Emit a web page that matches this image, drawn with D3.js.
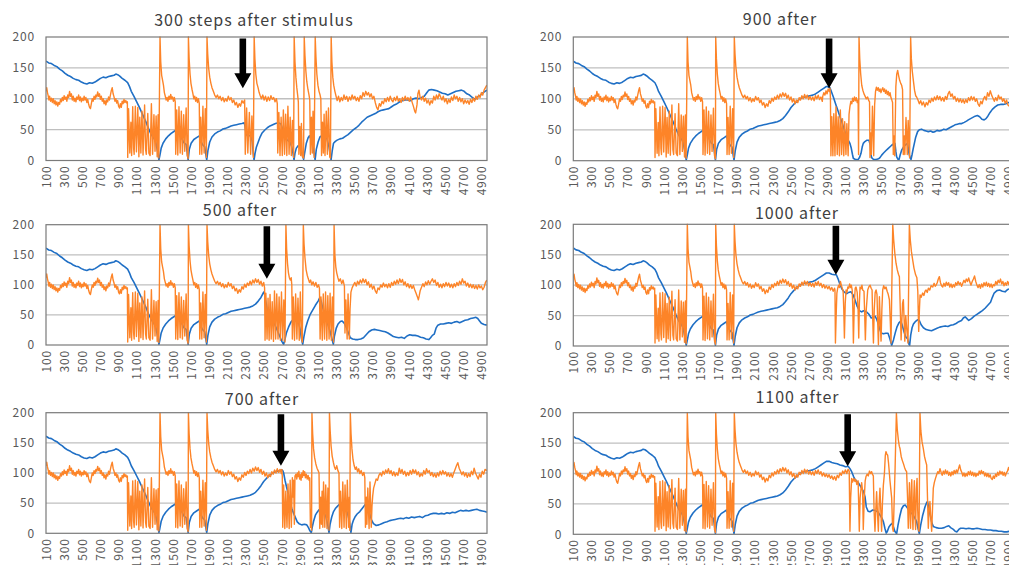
<!DOCTYPE html>
<html>
<head>
<meta charset="utf-8">
<script src="https://cdn.jsdelivr.net/npm/d3@7"></script>
<style>
  body { margin: 0; background: #fff; }
  svg { display: block; font-family: "Noto Sans CJK JP", "Noto Sans", sans-serif; }
</style>
</head>
<body>
<svg id="chart" width="1009" height="565"></svg>
<script>
// ---- axis labels ----
const xTickLabels = [100, 300, 500, 700, 900, 1100, 1300, 1500, 1700, 1900, 2100, 2300, 2500,
  2700, 2900, 3100, 3300, 3500, 3700, 3900, 4100, 4300, 4500, 4700, 4900];
const yTickLabels = [0, 50, 100, 150, 200];
const gridValues = [50, 100, 150];

// ---- panel titles, arrow step and arrow tip value (row-major order) ----
const titles = ["300 steps after stimulus", "900 after", "500 after", "1000 after", "700 after", "1100 after"];
const arrowSteps = [2270, 2920, 2535, 2995, 2690, 3125];
const arrowTips = [117, 117, 110, 117, 112, 112];

// ---- shared run before the perturbation (blue) ----
const blueBase = [[100,161],[130,158],[160,157],[190,154],[220,152],[250,148],[280,145],[310,141],[340,138],[370,136],[400,133],[430,131],[460,130],[490,127],[520,125],[550,124],[580,126],[610,125],[640,127],[670,130],[700,133],[730,135],[760,134],[790,136],[820,137],[850,138],[870,140],[890,139],[910,137],[940,133],[970,130],[1000,126],[1020,120],[1040,112],[1070,104],[1100,95],[1130,86],[1160,76],[1200,63],[1230,52],[1260,42],[1290,36],[1310,30],[1330,15],[1345,1],[1355,8],[1370,20],[1390,28],[1420,35],[1450,40],[1480,44],[1510,47],[1540,50],[1565,52],[1585,45],[1600,35],[1620,29],[1645,26],[1658,12],[1667,1],[1680,18],[1700,28],[1730,34],[1760,37],[1790,40],[1805,32],[1825,26],[1850,22],[1862,10],[1872,1],[1885,16],[1905,30],[1930,38],[1960,43],[1990,46],[2020,48],[2050,51],[2080,52],[2110,54],[2140,56],[2170,57],[2200,58],[2230,59],[2260,60],[2290,61],[2320,62],[2350,63],[2380,65],[2410,68],[2440,73],[2470,79],[2500,86],[2530,91],[2560,95],[2590,99],[2620,102],[2650,103],[2680,104],[2710,105],[2740,106],[2770,108],[2800,111],[2830,114],[2860,117],[2890,120],[2920,120],[2950,118],[2980,117],[3010,116],[3040,114],[3070,113],[3100,111]];

// ---- shared run before the perturbation (orange) ----
const orangeBase = [[100,112],[108,118],[116,110],[124,105],[132,98],[140,104],[150,96],[160,101],[170,94],[180,100],[190,92],[200,97],[210,90],[220,95],[230,88],[240,94],[250,91],[260,99],[270,95],[280,102],[290,97],[300,105],[310,99],[320,103],[330,96],[340,106],[350,102],[360,112],[370,104],[380,108],[390,98],[400,104],[410,96],[420,101],[430,95],[440,103],[450,99],[460,106],[470,97],[480,103],[490,95],[500,101],[510,97],[520,104],[530,98],[540,102],[550,94],[560,99],[570,91],[580,86],[590,84],[600,92],[610,100],[620,96],[630,104],[640,99],[650,106],[660,103],[670,111],[680,104],[690,108],[700,99],[710,104],[720,96],[730,100],[740,92],[750,97],[760,90],[770,98],[780,95],[790,103],[800,98],[810,106],[820,113],[830,118],[840,108],[850,103],[860,96],[870,100],[880,93],[890,97],[900,88],[910,85],[920,92],[930,86],[940,96],[950,92],[960,99],[970,94],[980,97],[990,93],
[997,95],[1001,5],[1010,84],[1024,12],[1036,62],[1044,8],[1056,87],[1066,20],[1072,10],[1085,88],[1097,14],[1112,86],[1124,6],[1134,70],[1146,12],[1158,80],[1170,9],[1187,90],[1198,18],[1206,10],[1222,76],[1234,12],[1248,8],[1262,92],[1275,10],[1290,74],[1302,15],[1314,72],[1326,6],[1336,74],[1344,4],
[1357,200],[1365,160],[1375,138],[1385,130],[1395,122],[1405,110],[1415,104],[1425,98],[1435,102],[1445,96],[1455,104],[1465,99],[1475,107],[1485,100],[1495,103],[1505,96],[1515,102],[1525,95],
[1530,10],[1541,82],[1553,9],[1566,87],[1579,12],[1592,80],[1604,10],[1618,74],[1630,15],[1645,85],[1657,8],[1667,3],
[1670,200],[1678,165],[1688,140],[1698,125],[1710,115],[1720,108],[1730,100],[1740,104],[1750,96],[1760,102],[1770,94],[1780,100],[1790,92],
[1795,10],[1806,70],[1818,10],[1830,88],[1843,12],[1856,84],[1868,5],
[1875,200],[1883,172],[1893,150],[1905,135],[1918,125],[1930,118],[1945,112],[1960,106],[1975,102],[1990,106],[2005,100],[2020,104],[2035,97],[2050,102],[2065,95],[2080,100],[2095,96],[2110,104],[2125,98],[2140,102],[2155,94],[2170,98],[2185,90],[2200,94],[2215,86],[2230,92],[2245,88],[2260,97],[2275,93],[2290,101],[2305,96],[2320,103],[2335,99],[2350,106],[2365,100],[2380,108],[2395,103],[2410,110],[2425,104],[2440,109],[2455,101],[2470,106],[2485,98],[2500,103],[2515,95],[2530,100],[2545,92],[2560,98],[2575,94],[2590,102],[2605,98],[2620,105],[2635,100],[2650,107],[2665,101],[2680,106],[2695,99],[2710,104],[2725,98],[2740,103],[2755,97],[2770,105],[2785,100],[2800,106],[2815,99],[2830,103],[2845,96],[2860,101],[2875,95],[2890,99],[2905,94],[2920,98],[2935,92],[2950,96],[2965,90],[2980,95],[2995,89],[3010,97],[3025,93],[3040,101],[3055,97],[3070,104],[3085,100],[3100,106]];

// ---- 300 steps after stimulus ----
const blue300 = [[2285,61],[2295,55],[2305,44],[2320,40],[2340,40],[2360,41],[2375,30],[2385,12],[2394,1],[2405,12],[2420,22],[2440,30],[2460,38],[2480,44],[2510,49],[2540,53],[2570,56],[2600,58],[2630,60],[2660,61],[2690,59],[2710,50],[2730,40],[2760,33],[2790,30],[2810,22],[2825,10],[2835,1],[2845,12],[2860,20],[2880,24],[2900,22],[2920,12],[2940,2],[2955,15],[2970,28],[2990,37],[3005,40],[3020,35],[3035,28],[3050,18],[3060,8],[3067,1],[3080,18],[3100,30],[3120,38],[3150,41],[3180,40],[3200,34],[3220,22],[3235,8],[3243,1],[3255,15],[3270,28],[3290,31],[3310,33],[3340,35],[3370,36],[3400,39],[3430,42],[3460,46],[3490,50],[3520,53],[3550,57],[3580,62],[3610,66],[3640,70],[3670,72],[3700,74],[3730,76],[3760,79],[3790,81],[3820,82],[3850,83],[3880,84],[3910,87],[3940,90],[3970,92],[4000,95],[4030,97],[4060,98],[4090,98],[4120,97],[4150,100],[4180,101],[4210,100],[4240,102],[4270,104],[4300,110],[4320,114],[4350,115],[4380,114],[4410,113],[4440,111],[4470,109],[4500,108],[4530,106],[4560,108],[4590,110],[4620,112],[4650,113],[4680,114],[4710,112],[4740,108],[4770,106],[4800,102],[4830,99],[4860,103],[4890,106],[4920,110],[4960,114]];
const orange300 = [[2290,98],[2297,10],[2312,85],[2325,12],[2342,78],[2356,10],[2370,72],[2386,5],[2395,200],[2403,165],[2413,140],[2425,125],[2438,118],[2450,110],[2462,105],[2475,100],[2490,106],[2505,98],[2520,104],[2535,96],[2550,103],[2565,97],[2580,105],[2595,99],[2610,102],[2625,95],[2640,100],[2650,92],[2655,12],[2667,78],[2680,8],[2692,70],[2705,8],[2717,82],[2730,10],[2742,75],[2755,8],[2767,88],[2780,10],[2792,70],[2805,8],[2817,65],[2830,5],[2836,200],[2845,160],[2855,135],[2865,118],[2875,105],[2882,95],[2888,10],[2898,55],[2908,8],[2916,60],[2926,6],[2940,4],[2947,200],[2955,170],[2965,145],[2975,128],[2988,115],[3000,106],[3008,98],[3015,10],[3026,70],[3036,12],[3044,80],[3056,5],[3068,200],[3076,168],[3086,140],[3098,122],[3110,112],[3122,106],[3130,100],[3138,8],[3148,62],[3158,12],[3166,75],[3176,8],[3190,80],[3202,10],[3214,85],[3228,6],[3236,4],[3244,200],[3252,160],[3262,135],[3272,122],[3285,112],[3298,104],[3310,97],[3325,104],[3340,95],[3355,102],[3370,97],[3385,106],[3400,99],[3415,104],[3430,96],[3445,103],[3460,98],[3475,106],[3490,100],[3505,104],[3520,97],[3535,102],[3550,96],[3565,105],[3580,100],[3595,110],[3610,104],[3625,112],[3640,106],[3655,110],[3670,103],[3685,108],[3700,100],[3715,104],[3730,94],[3745,86],[3760,82],[3775,92],[3790,88],[3805,96],[3820,92],[3835,100],[3850,95],[3865,102],[3880,96],[3895,104],[3910,98],[3925,95],[3940,102],[3955,97],[3970,104],[3985,96],[4000,100],[4015,94],[4030,102],[4045,97],[4060,104],[4075,98],[4090,102],[4105,96],[4120,103],[4135,95],[4150,88],[4165,80],[4175,77],[4190,90],[4200,108],[4212,114],[4225,102],[4240,98],[4255,104],[4270,96],[4285,101],[4300,93],[4315,98],[4330,90],[4345,97],[4360,93],[4375,104],[4390,98],[4405,106],[4420,100],[4435,108],[4450,103],[4465,98],[4480,104],[4495,95],[4510,100],[4525,92],[4540,99],[4555,94],[4570,103],[4585,97],[4600,106],[4615,100],[4630,104],[4645,96],[4660,102],[4675,95],[4690,100],[4705,92],[4720,98],[4735,93],[4750,97],[4765,91],[4780,99],[4795,94],[4810,101],[4825,96],[4840,104],[4855,99],[4870,106],[4885,102],[4900,110],[4915,106],[4930,114],[4945,118],[4960,122]];

// ---- 500 after ----
const blue500 = [[2500,88],[2510,85],[2520,75],[2535,62],[2550,50],[2570,46],[2590,44],[2610,38],[2640,28],[2670,17],[2700,6],[2720,1],[2735,10],[2750,20],[2775,30],[2800,38],[2830,43],[2860,45],[2880,40],[2900,28],[2915,12],[2930,1],[2945,15],[2965,30],[2985,40],[3010,50],[3040,58],[3070,66],[3100,73],[3120,79],[3135,72],[3150,62],[3175,50],[3200,38],[3230,24],[3250,12],[3268,1],[3280,15],[3300,28],[3320,35],[3345,39],[3365,40],[3390,36],[3415,28],[3435,20],[3455,12],[3480,10],[3510,9],[3540,9],[3570,10],[3600,12],[3630,17],[3660,22],[3690,25],[3720,26],[3750,25],[3780,24],[3810,23],[3840,22],[3870,20],[3900,17],[3930,14],[3960,13],[3990,12],[4020,13],[4050,11],[4080,15],[4110,17],[4140,16],[4170,16],[4200,15],[4230,13],[4260,12],[4290,10],[4320,9],[4340,12],[4360,16],[4380,18],[4400,28],[4420,33],[4450,35],[4480,35],[4510,36],[4540,37],[4570,36],[4600,38],[4630,39],[4660,37],[4690,39],[4720,41],[4750,42],[4780,44],[4810,45],[4840,46],[4860,44],[4880,40],[4900,36],[4930,34],[4960,33]];
const orange500 = [[2500,104],[2510,95],[2515,8],[2524,86],[2537,10],[2548,78],[2560,8],[2570,84],[2583,10],[2594,72],[2608,6],[2619,90],[2632,10],[2644,85],[2658,10],[2670,80],[2684,8],[2696,88],[2710,8],[2722,75],[2735,5],[2745,200],[2753,160],[2763,135],[2773,120],[2783,112],[2793,108],[2803,112],[2810,100],[2816,10],[2826,80],[2840,8],[2852,85],[2866,10],[2878,78],[2892,8],[2904,88],[2918,10],[2926,5],[2937,200],[2945,168],[2955,145],[2968,125],[2980,116],[2992,110],[3005,104],[3018,108],[3030,100],[3045,105],[3060,98],[3075,104],[3090,96],[3105,100],[3115,94],[3122,10],[3132,80],[3146,8],[3157,85],[3171,10],[3182,88],[3196,8],[3207,82],[3221,10],[3232,86],[3246,8],[3257,80],[3270,5],[3276,200],[3285,150],[3295,130],[3305,120],[3318,112],[3330,106],[3345,110],[3360,102],[3375,108],[3390,98],[3396,20],[3406,75],[3420,10],[3430,85],[3444,10],[3452,60],[3462,88],[3475,95],[3490,100],[3505,104],[3520,98],[3535,106],[3550,101],[3565,108],[3580,103],[3595,110],[3610,104],[3625,109],[3640,100],[3655,105],[3670,96],[3685,101],[3700,93],[3715,98],[3730,90],[3745,86],[3760,95],[3775,92],[3790,100],[3805,96],[3820,103],[3835,97],[3850,101],[3865,95],[3880,102],[3895,96],[3910,104],[3925,99],[3940,106],[3955,101],[3970,108],[3985,102],[4000,110],[4015,104],[4030,109],[4045,100],[4060,105],[4075,97],[4090,102],[4105,95],[4120,100],[4135,94],[4150,99],[4165,92],[4180,86],[4195,80],[4205,75],[4215,82],[4225,90],[4240,96],[4255,102],[4270,97],[4285,105],[4300,100],[4315,107],[4330,101],[4345,106],[4360,110],[4375,104],[4390,108],[4405,99],[4420,104],[4435,96],[4450,101],[4465,95],[4480,102],[4495,97],[4510,104],[4525,98],[4540,103],[4555,96],[4570,101],[4585,95],[4600,102],[4615,97],[4630,104],[4645,99],[4660,106],[4675,101],[4690,110],[4705,103],[4720,106],[4735,98],[4750,103],[4765,96],[4780,101],[4795,95],[4810,100],[4825,94],[4840,99],[4855,93],[4870,100],[4885,95],[4900,98],[4915,92],[4930,96],[4945,104],[4960,108]];

// ---- 700 after ----
const blue700 = [[2700,105],[2710,104],[2720,100],[2735,88],[2750,78],[2770,66],[2790,52],[2810,41],[2830,33],[2850,26],[2870,19],[2890,16],[2920,14],[2950,15],[2975,14],[2995,9],[3010,4],[3025,1],[3035,10],[3050,20],[3070,30],[3090,35],[3110,39],[3135,38],[3160,36],[3185,28],[3205,15],[3220,1],[3232,15],[3250,27],[3270,36],[3290,41],[3315,45],[3340,49],[3360,50],[3380,48],[3400,42],[3425,33],[3445,20],[3462,1],[3475,15],[3490,22],[3510,28],[3530,32],[3560,36],[3590,42],[3620,48],[3635,50],[3650,44],[3670,32],[3690,22],[3710,16],[3740,13],[3770,14],[3800,16],[3830,18],[3860,19],[3890,21],[3920,22],[3950,23],[3980,24],[4010,25],[4040,24],[4070,26],[4100,25],[4130,27],[4160,26],[4190,27],[4220,28],[4250,26],[4280,29],[4310,30],[4340,32],[4370,33],[4400,33],[4430,32],[4460,33],[4490,32],[4520,34],[4550,33],[4580,35],[4610,34],[4640,36],[4670,38],[4700,37],[4730,38],[4760,37],[4790,38],[4820,39],[4850,40],[4880,38],[4910,37],[4940,36],[4960,35]];
const orange700 = [[2700,106],[2705,95],[2710,10],[2720,80],[2733,8],[2744,70],[2757,10],[2768,82],[2781,8],[2792,88],[2805,10],[2816,92],[2824,60],[2830,88],[2838,15],[2845,95],[2855,98],[2865,90],[2872,100],[2880,94],[2888,103],[2896,90],[2904,97],[2912,88],[2920,100],[2928,93],[2936,104],[2944,96],[2952,102],[2960,92],[2970,98],[2980,90],[2990,96],[3000,88],[3008,92],[3015,10],[3022,40],[3028,5],[3032,200],[3040,165],[3050,140],[3062,125],[3075,115],[3088,108],[3100,104],[3110,100],[3118,8],[3128,60],[3136,15],[3144,70],[3152,10],[3160,85],[3174,10],[3184,80],[3198,8],[3208,75],[3220,5],[3225,200],[3233,170],[3243,145],[3255,128],[3268,118],[3280,110],[3292,106],[3305,112],[3318,104],[3330,100],[3337,10],[3347,70],[3361,8],[3372,85],[3386,10],[3397,80],[3411,8],[3422,88],[3436,10],[3444,60],[3450,5],[3455,200],[3463,165],[3473,140],[3485,122],[3498,112],[3510,106],[3522,110],[3535,102],[3548,107],[3560,99],[3575,104],[3590,96],[3605,101],[3615,92],[3622,10],[3632,60],[3638,15],[3648,75],[3662,8],[3672,85],[3686,10],[3694,45],[3702,62],[3712,75],[3725,82],[3740,90],[3755,88],[3770,96],[3785,100],[3800,95],[3815,103],[3830,98],[3845,105],[3860,100],[3875,107],[3890,99],[3905,104],[3920,96],[3935,102],[3950,95],[3965,100],[3980,96],[3995,108],[4010,100],[4025,106],[4040,98],[4055,103],[4070,95],[4085,101],[4100,96],[4115,104],[4130,98],[4145,106],[4160,100],[4175,105],[4190,97],[4205,102],[4220,94],[4235,99],[4250,95],[4265,104],[4280,98],[4295,107],[4310,101],[4325,104],[4340,96],[4355,101],[4370,94],[4385,99],[4400,93],[4415,100],[4430,95],[4445,103],[4460,97],[4475,104],[4490,98],[4505,102],[4520,95],[4535,100],[4550,94],[4565,99],[4580,93],[4595,100],[4610,106],[4625,112],[4640,117],[4655,108],[4670,103],[4685,97],[4700,102],[4715,95],[4730,100],[4745,93],[4760,99],[4775,94],[4790,103],[4805,97],[4820,108],[4835,100],[4850,95],[4865,90],[4880,98],[4895,93],[4910,103],[4925,98],[4940,106],[4960,104]];

// ---- 900 after ----
const blue900 = [[2900,120],[2930,118],[2950,110],[2967,103],[2985,95],[3003,87],[3020,80],[3040,71],[3060,63],[3077,55],[3095,47],[3114,39],[3132,33],[3150,28],[3165,20],[3178,10],[3187,4],[3210,2],[3242,2],[3258,6],[3272,12],[3285,22],[3297,28],[3315,31],[3334,33],[3360,33],[3375,25],[3382,10],[3389,5],[3410,2],[3440,2],[3465,3],[3481,5],[3500,9],[3518,12],[3545,16],[3573,20],[3595,23],[3610,25],[3630,27],[3646,28],[3656,15],[3665,6],[3680,2],[3691,2],[3705,10],[3720,17],[3740,22],[3757,25],[3775,27],[3786,28],[3795,18],[3801,12],[3812,5],[3823,2],[3835,10],[3848,20],[3860,28],[3875,38],[3896,47],[3915,50],[3940,51],[3965,49],[3990,48],[4014,47],[4040,48],[4065,46],[4088,47],[4110,49],[4135,48],[4161,49],[4185,51],[4210,50],[4235,52],[4260,54],[4285,56],[4308,58],[4335,59],[4360,60],[4382,60],[4410,62],[4435,64],[4455,66],[4480,68],[4505,70],[4530,72],[4555,73],[4580,71],[4605,67],[4630,66],[4650,68],[4670,72],[4695,78],[4720,83],[4750,87],[4780,90],[4810,91],[4840,91],[4870,92],[4900,94],[4930,95],[4960,96]];
const orange900 = [[2850,104],[2862,110],[2874,106],[2886,113],[2898,108],[2910,116],[2922,112],[2930,117],[2935,100],[2940,8],[2950,71],[2962,8],[2972,76],[2985,8],[2996,87],[3010,10],[3020,71],[3034,8],[3044,82],[3058,10],[3068,68],[3082,8],[3092,63],[3106,10],[3116,60],[3130,8],[3140,75],[3150,88],[3160,96],[3170,92],[3180,101],[3190,96],[3200,103],[3210,97],[3220,102],[3230,94],[3240,98],[3245,10],[3250,200],[3258,165],[3268,141],[3280,122],[3292,114],[3305,108],[3318,104],[3330,100],[3345,103],[3358,97],[3366,95],[3371,5],[3380,45],[3386,10],[3398,88],[3412,8],[3422,90],[3432,112],[3442,119],[3452,114],[3462,118],[3472,112],[3482,116],[3492,110],[3502,115],[3512,118],[3522,112],[3532,116],[3542,109],[3552,114],[3562,107],[3572,112],[3582,105],[3592,110],[3602,102],[3612,98],[3620,94],[3628,10],[3636,40],[3644,8],[3656,120],[3666,140],[3676,146],[3686,138],[3698,130],[3710,125],[3720,122],[3730,115],[3738,10],[3748,40],[3755,10],[3768,70],[3782,10],[3792,65],[3808,5],[3819,200],[3827,165],[3837,145],[3849,130],[3862,114],[3875,105],[3885,103],[3900,98],[3915,92],[3930,97],[3945,90],[3960,95],[3977,87],[3992,94],[4007,90],[4022,98],[4037,94],[4052,101],[4067,96],[4082,103],[4097,98],[4112,105],[4127,99],[4142,104],[4157,97],[4172,102],[4187,96],[4202,104],[4217,99],[4232,108],[4247,112],[4262,104],[4277,108],[4292,100],[4307,104],[4322,96],[4337,101],[4352,95],[4367,100],[4382,94],[4397,99],[4412,93],[4427,99],[4442,94],[4457,102],[4472,97],[4487,104],[4502,98],[4517,103],[4532,96],[4547,100],[4562,92],[4577,88],[4592,96],[4607,92],[4622,100],[4637,104],[4652,98],[4667,110],[4682,104],[4697,113],[4712,106],[4727,101],[4742,96],[4757,102],[4772,97],[4787,106],[4802,100],[4817,103],[4832,96],[4847,100],[4862,93],[4877,98],[4892,90],[4907,88],[4922,96],[4937,92],[4960,98]];

// ---- 1000 after ----
const blue1000 = [[3000,117],[3020,110],[3040,101],[3060,94],[3080,90],[3100,87],[3115,86],[3135,88],[3160,89],[3185,84],[3205,76],[3230,65],[3255,58],[3279,56],[3300,58],[3320,57],[3340,55],[3360,52],[3385,46],[3405,47],[3426,49],[3445,44],[3465,35],[3485,25],[3500,21],[3520,20],[3545,21],[3570,21],[3590,12],[3610,1],[3630,10],[3650,22],[3670,32],[3690,38],[3710,41],[3725,35],[3745,24],[3765,15],[3785,12],[3800,3],[3808,1],[3820,18],[3835,30],[3850,36],[3870,40],[3895,43],[3915,42],[3935,35],[3960,30],[3990,27],[4020,26],[4050,25],[4080,27],[4110,29],[4140,31],[4170,32],[4200,33],[4230,32],[4260,34],[4290,35],[4320,37],[4350,40],[4380,42],[4400,46],[4420,48],[4440,45],[4460,42],[4490,45],[4520,49],[4550,52],[4580,55],[4610,58],[4640,62],[4670,67],[4700,72],[4720,80],[4740,87],[4770,91],[4800,92],[4830,90],[4860,89],[4890,93],[4930,95],[4960,97]];
const orange1000 = [[2985,92],[2990,5],[3000,60],[3006,87],[3015,95],[3025,100],[3034,96],[3045,106],[3055,100],[3065,95],[3075,90],[3082,60],[3089,13],[3098,70],[3107,92],[3117,88],[3127,97],[3137,95],[3147,102],[3157,96],[3165,100],[3175,92],[3182,60],[3188,5],[3198,70],[3208,95],[3217,97],[3230,88],[3240,60],[3247,13],[3254,70],[3261,97],[3272,94],[3282,100],[3291,92],[3305,90],[3313,50],[3320,10],[3330,60],[3346,92],[3358,97],[3372,100],[3384,95],[3394,92],[3400,50],[3409,5],[3418,60],[3428,88],[3438,92],[3448,85],[3456,40],[3464,2],[3470,40],[3475,81],[3484,40],[3493,8],[3502,60],[3511,92],[3522,99],[3535,94],[3548,97],[3560,90],[3572,85],[3585,76],[3595,40],[3603,5],[3612,100],[3622,200],[3632,175],[3645,152],[3658,136],[3672,125],[3685,118],[3695,114],[3705,60],[3714,10],[3722,40],[3730,70],[3739,76],[3748,40],[3755,8],[3765,50],[3775,30],[3790,5],[3805,200],[3815,175],[3828,155],[3842,141],[3856,128],[3874,117],[3888,112],[3898,90],[3908,24],[3916,60],[3923,84],[3935,80],[3952,87],[3965,83],[3978,90],[3989,92],[4002,88],[4015,95],[4030,92],[4045,99],[4063,97],[4078,103],[4090,98],[4100,100],[4112,104],[4124,110],[4136,114],[4148,104],[4160,99],[4173,97],[4186,103],[4199,98],[4212,105],[4225,100],[4238,104],[4251,97],[4264,102],[4277,96],[4290,101],[4303,97],[4316,104],[4329,100],[4342,106],[4355,101],[4368,104],[4381,98],[4394,103],[4407,108],[4420,104],[4433,110],[4446,106],[4459,112],[4472,105],[4485,100],[4498,106],[4511,110],[4524,115],[4537,106],[4550,100],[4563,96],[4576,101],[4589,95],[4602,102],[4615,97],[4628,104],[4641,99],[4654,105],[4667,98],[4680,103],[4693,97],[4706,102],[4719,96],[4732,101],[4745,99],[4758,106],[4771,101],[4784,108],[4797,104],[4810,110],[4823,102],[4836,106],[4849,99],[4862,104],[4875,100],[4888,106],[4901,101],[4914,108],[4927,102],[4940,106],[4960,104]];

// ---- 1100 after ----
const blue1100 = [[3105,111],[3130,112],[3150,108],[3169,103],[3190,95],[3210,89],[3242,85],[3270,78],[3300,70],[3316,62],[3330,45],[3350,38],[3371,37],[3400,40],[3430,39],[3455,37],[3480,32],[3505,26],[3520,20],[3535,10],[3550,2],[3560,4],[3580,12],[3600,16],[3615,18],[3630,12],[3645,5],[3665,1],[3680,15],[3700,30],[3720,42],[3740,47],[3760,48],[3790,42],[3812,37],[3840,33],[3865,27],[3885,21],[3900,10],[3915,1],[3930,15],[3950,30],[3977,45],[3995,52],[4005,54],[4020,42],[4040,28],[4055,18],[4069,13],[4100,11],[4130,10],[4160,10],[4190,11],[4216,13],[4240,14],[4260,11],[4290,8],[4310,5],[4330,4],[4350,8],[4370,10],[4400,10],[4430,9],[4460,10],[4490,9],[4520,9],[4550,10],[4580,9],[4610,8],[4640,8],[4670,7],[4700,7],[4730,6],[4760,6],[4790,5],[4820,5],[4850,4],[4880,4],[4910,5],[4940,6],[4960,7]];
const orange1100 = [[3115,100],[3130,107],[3142,104],[3150,5],[3158,60],[3169,92],[3180,86],[3192,92],[3205,87],[3215,90],[3225,82],[3240,88],[3248,40],[3253,5],[3262,60],[3279,85],[3290,70],[3297,8],[3308,60],[3318,88],[3327,95],[3340,99],[3352,96],[3365,104],[3378,100],[3389,103],[3400,98],[3408,96],[3416,40],[3426,5],[3435,40],[3444,70],[3452,40],[3463,5],[3472,50],[3481,76],[3490,40],[3499,5],[3508,50],[3518,80],[3530,100],[3540,130],[3547,136],[3557,132],[3566,130],[3575,118],[3585,100],[3592,87],[3610,60],[3620,10],[3628,5],[3648,110],[3662,200],[3672,172],[3684,155],[3694,145],[3702,141],[3715,128],[3726,122],[3738,117],[3752,110],[3765,105],[3775,103],[3785,60],[3793,10],[3800,50],[3806,85],[3812,40],[3818,10],[3826,70],[3832,90],[3838,35],[3845,8],[3853,60],[3860,88],[3867,30],[3874,8],[3882,75],[3890,92],[3897,40],[3905,8],[3912,5],[3922,200],[3932,170],[3945,152],[3959,141],[3972,128],[3985,120],[3996,114],[4005,60],[4014,10],[4022,40],[4032,54],[4040,30],[4051,5],[4060,40],[4069,76],[4080,85],[4093,92],[4106,98],[4118,103],[4130,100],[4143,108],[4155,102],[4167,97],[4179,104],[4191,99],[4203,106],[4215,100],[4227,104],[4239,97],[4251,102],[4263,96],[4275,103],[4287,98],[4299,105],[4311,100],[4323,106],[4335,101],[4347,108],[4359,114],[4371,106],[4383,102],[4395,96],[4407,101],[4419,95],[4431,100],[4443,96],[4455,103],[4467,98],[4479,104],[4491,97],[4503,102],[4515,96],[4527,101],[4539,95],[4551,100],[4563,97],[4575,104],[4587,99],[4599,105],[4611,100],[4623,103],[4635,96],[4647,101],[4659,95],[4671,100],[4683,94],[4695,98],[4707,92],[4719,90],[4731,96],[4743,92],[4755,99],[4767,95],[4779,102],[4791,97],[4803,104],[4815,99],[4827,103],[4839,97],[4851,102],[4863,96],[4875,101],[4887,104],[4899,110],[4911,104],[4923,100],[4935,106],[4947,102],[4960,112]];

// continuation replaces the shared run from its first step on
function splice(base, tail) {
  const start = tail[0][0];
  return base.filter(d => d[0] < start).concat(tail);
}

const blueSeries = [blue300, blue900, blue500, blue1000, blue700, blue1100].map(t => splice(blueBase, t));
const orangeSeries = [orange300, orange900, orange500, orange1000, orange700, orange1100].map(t => splice(orangeBase, t));

// ---- layout ----
const layout = [
  { x: 46,    y: 37,    w: 441, h: 123.5, tx: 254,   ty: 26 },
  { x: 573.3, y: 37,    w: 441, h: 123.7, tx: 780,   ty: 25 },
  { x: 46,    y: 224.7, w: 441, h: 120.3, tx: 240,   ty: 216 },
  { x: 573.3, y: 224.3, w: 441, h: 121.7, tx: 797,   ty: 219 },
  { x: 46,    y: 412.7, w: 441, h: 120.6, tx: 262,   ty: 405 },
  { x: 573.3, y: 412.7, w: 441, h: 121.6, tx: 797.5, ty: 403 }
];

const BLUE = "#1f6fc5";
const ORANGE = "#fd8428";
const TEXT = "#595959";

const svg = d3.select("#chart");

layout.forEach((L, i) => {
  const x = d3.scaleLinear().domain([100, 4962]).range([0, L.w]);
  const y = d3.scaleLinear().domain([0, 200]).range([L.h, 0]);

  svg.append("text")
    .attr("x", L.tx).attr("y", L.ty)
    .attr("text-anchor", "middle")
    .attr("font-size", 16).attr("letter-spacing", 1)
    .attr("fill", "#404040")
    .text(titles[i]);

  const g = svg.append("g").attr("transform", `translate(${L.x},${L.y})`);

  g.append("clipPath").attr("id", "clip" + i)
    .append("rect").attr("x", 0).attr("y", -1).attr("width", L.w).attr("height", L.h + 1);

  g.selectAll(".grid").data(gridValues).enter().append("line")
    .attr("x1", 0).attr("x2", L.w)
    .attr("y1", d => y(d)).attr("y2", d => y(d))
    .attr("stroke", "#bfbfbf").attr("stroke-width", 1.3);

  // y axis labels
  const ya = g.append("g").call(d3.axisLeft(y).tickValues(yTickLabels).tickSize(0).tickPadding(11));
  ya.select(".domain").remove();
  ya.selectAll("text").attr("fill", TEXT).attr("font-size", 12).attr("letter-spacing", 0.8)
    .attr("font-family", '"Noto Sans CJK JP", sans-serif');

  // x axis labels, rotated
  const xa = g.append("g").attr("transform", `translate(0,${L.h})`)
    .call(d3.axisBottom(x).tickValues(xTickLabels).tickSize(0).tickFormat(d3.format("d")));
  xa.select(".domain").remove();
  xa.selectAll("text")
    .attr("transform", "rotate(-90)")
    .attr("text-anchor", "end")
    .attr("x", -5).attr("y", 0).attr("dy", "0.35em")
    .attr("fill", TEXT).attr("font-size", 12).attr("letter-spacing", 0.8)
    .attr("font-family", '"Noto Sans CJK JP", sans-serif');

  const line = d3.line().x(d => x(d[0])).y(d => y(d[1]));
  const series = g.append("g").attr("clip-path", `url(#clip${i})`);
  series.append("path").datum(blueSeries[i])
    .attr("fill", "none").attr("stroke", BLUE).attr("stroke-width", 1.6)
    .attr("stroke-linejoin", "round").attr("d", line);
  series.append("path").datum(orangeSeries[i])
    .attr("fill", "none").attr("stroke", ORANGE).attr("stroke-width", 1.4)
    .attr("stroke-linejoin", "round").attr("d", line);

  // plot border
  g.append("rect").attr("x", 0).attr("y", 0).attr("width", L.w).attr("height", L.h)
    .attr("fill", "none").attr("stroke", "#7a7a7a").attr("stroke-width", 1.2);

  // stimulus arrow
  const ax = x(arrowSteps[i]);
  const tip = y(arrowTips[i]);
  const hb = tip - 15;
  const top = 1.5;
  const sw = 3.3, hw = 8.5;
  g.append("path")
    .attr("d", `M${ax - sw},${top}L${ax + sw},${top}L${ax + sw},${hb}L${ax + hw},${hb}L${ax},${tip}L${ax - hw},${hb}L${ax - sw},${hb}Z`)
    .attr("fill", "#000");
});
</script>
</body>
</html>
